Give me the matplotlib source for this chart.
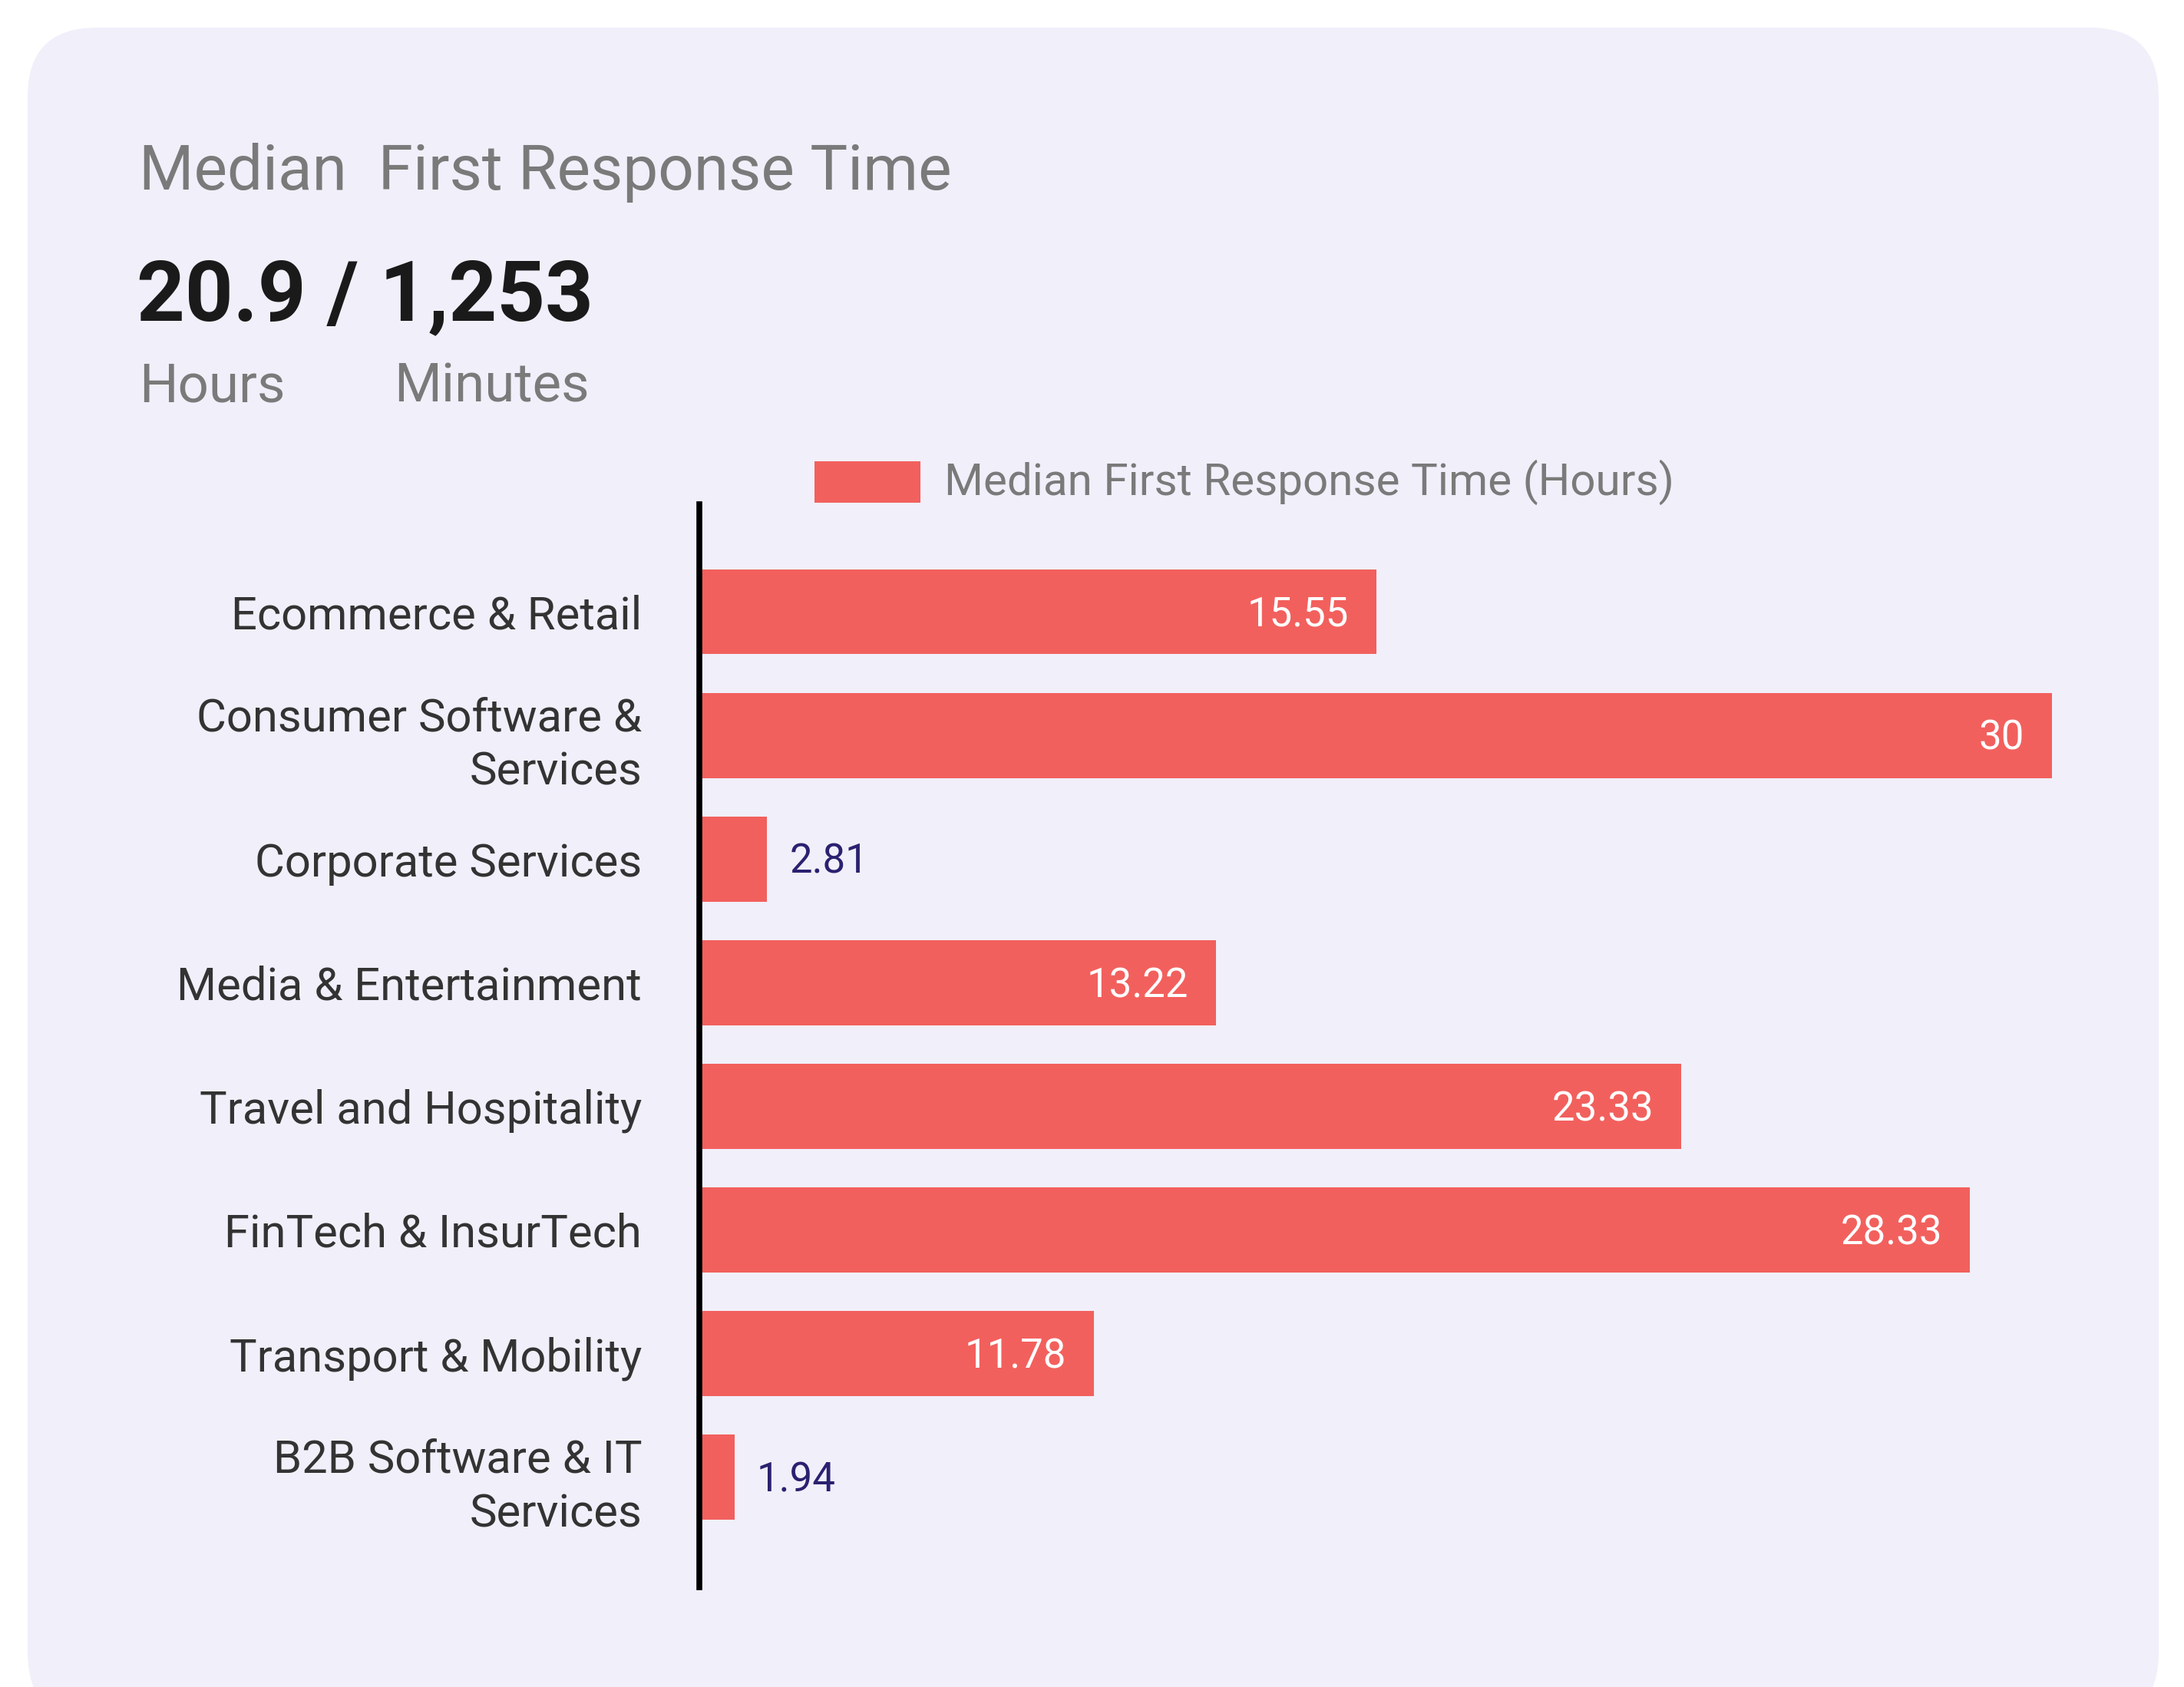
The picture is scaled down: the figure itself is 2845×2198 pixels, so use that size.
import matplotlib
matplotlib.use('Agg')
from matplotlib import pyplot as plt
from matplotlib.patches import FancyBboxPatch, Rectangle


# chart data

categories = ['Ecommerce & Retail', 'Consumer Software &\nServices', 'Corporate Services',
              'Media & Entertainment', 'Travel and Hospitality', 'FinTech & InsurTech',
              'Transport & Mobility', 'B2B Software & IT\nServices']
# bar lengths as drawn in the source chart (hours axis)
bar_lengths = [15.02, 30.0, 1.50, 11.46, 21.78, 28.18, 8.75, 0.78]
# printed labels
value_labels = ['15.55', '30', '2.81', '13.22', '23.33', '28.33', '11.78', '1.94']
inside = [True, True, False, True, True, True, True, False]

title = 'Median  First Response Time'
headline = '20.9 / 1,253'
units = ['Hours', 'Minutes']
legend_label = 'Median First Response Time (Hours)'


# colours and fonts

BAR = '#F2605D'
CARD = '#F1EFFA'
GREY = '#7A7A7A'
DARK = '#333333'
NAVY = '#2A2170'
FONT = 'Roboto'

W, H = 2845, 2198
DPI = 100


def fx(x):
    return x / W


def fy(y):
    return 1 - y / H


fig = plt.figure(figsize=(W / DPI, H / DPI), dpi=DPI)
fig.patch.set_facecolor('white')

# background axes in pixel units, holds the rounded card and the legend patch
bg = fig.add_axes([0, 0, 1, 1], zorder=-1)
bg.set_xlim(0, W)
bg.set_ylim(H, 0)
bg.axis('off')
bg.add_patch(FancyBboxPatch((36, 36), 2812 - 36, 2243 - 36,
                            boxstyle='round,pad=0,rounding_size=90',
                            facecolor=CARD, edgecolor='none'))
bg.add_patch(Rectangle((1061, 601), 1199 - 1061, 54, facecolor=BAR, edgecolor='none'))


# header texts

fig.text(fx(181), fy(247), title, fontsize=59, color=GREY, family=FONT, va='baseline')
fig.text(fx(178), fy(417), headline, fontsize=79, color='#1A1A1A', family=FONT,
         fontweight='bold', va='baseline')
fig.text(fx(181), fy(524), units[0], fontsize=51, color=GREY, family=FONT, va='baseline')
fig.text(fx(513), fy(524), units[1], fontsize=51, color=GREY, family=FONT, va='baseline')
fig.text(fx(1230), fy(628), legend_label, fontsize=42, color=GREY, family=FONT, va='center')


# bar chart

ax = fig.add_axes([fx(911), 1 - 2068 / H, (2673 - 911) / W, (2068 - 657) / H])
ax.set_facecolor('none')
ypos = list(range(len(categories)))
ax.barh(ypos, bar_lengths, height=0.687, color=BAR, zorder=1)
ax.set_xlim(0, 30)
ax.set_ylim(len(categories) - 1 + 0.89, -0.87)

for s in ['top', 'right', 'bottom']:
    ax.spines[s].set_visible(False)
ax.spines['left'].set_linewidth(5.5)
ax.spines['left'].set_color('black')
ax.spines['left'].set_zorder(3)
ax.set_xticks([])
ax.set_yticks(ypos)
ax.set_yticklabels(categories, fontsize=43, color=DARK, family=FONT, linespacing=1.3)
for lab in ax.get_yticklabels():
    lab.set_multialignment('right')
ax.tick_params(axis='y', length=0, pad=54)

for i, (v, lab, ins) in enumerate(zip(bar_lengths, value_labels, inside)):
    if ins:
        ax.annotate(lab, (v, i), xytext=(-26, -3), textcoords='offset points',
                    ha='right', va='center', fontsize=38, color='white', family=FONT)
    else:
        ax.annotate(lab, (v, i), xytext=(21, -3), textcoords='offset points',
                    ha='left', va='center', fontsize=38, color=NAVY, family=FONT)

plt.savefig('out.png', dpi=DPI)
